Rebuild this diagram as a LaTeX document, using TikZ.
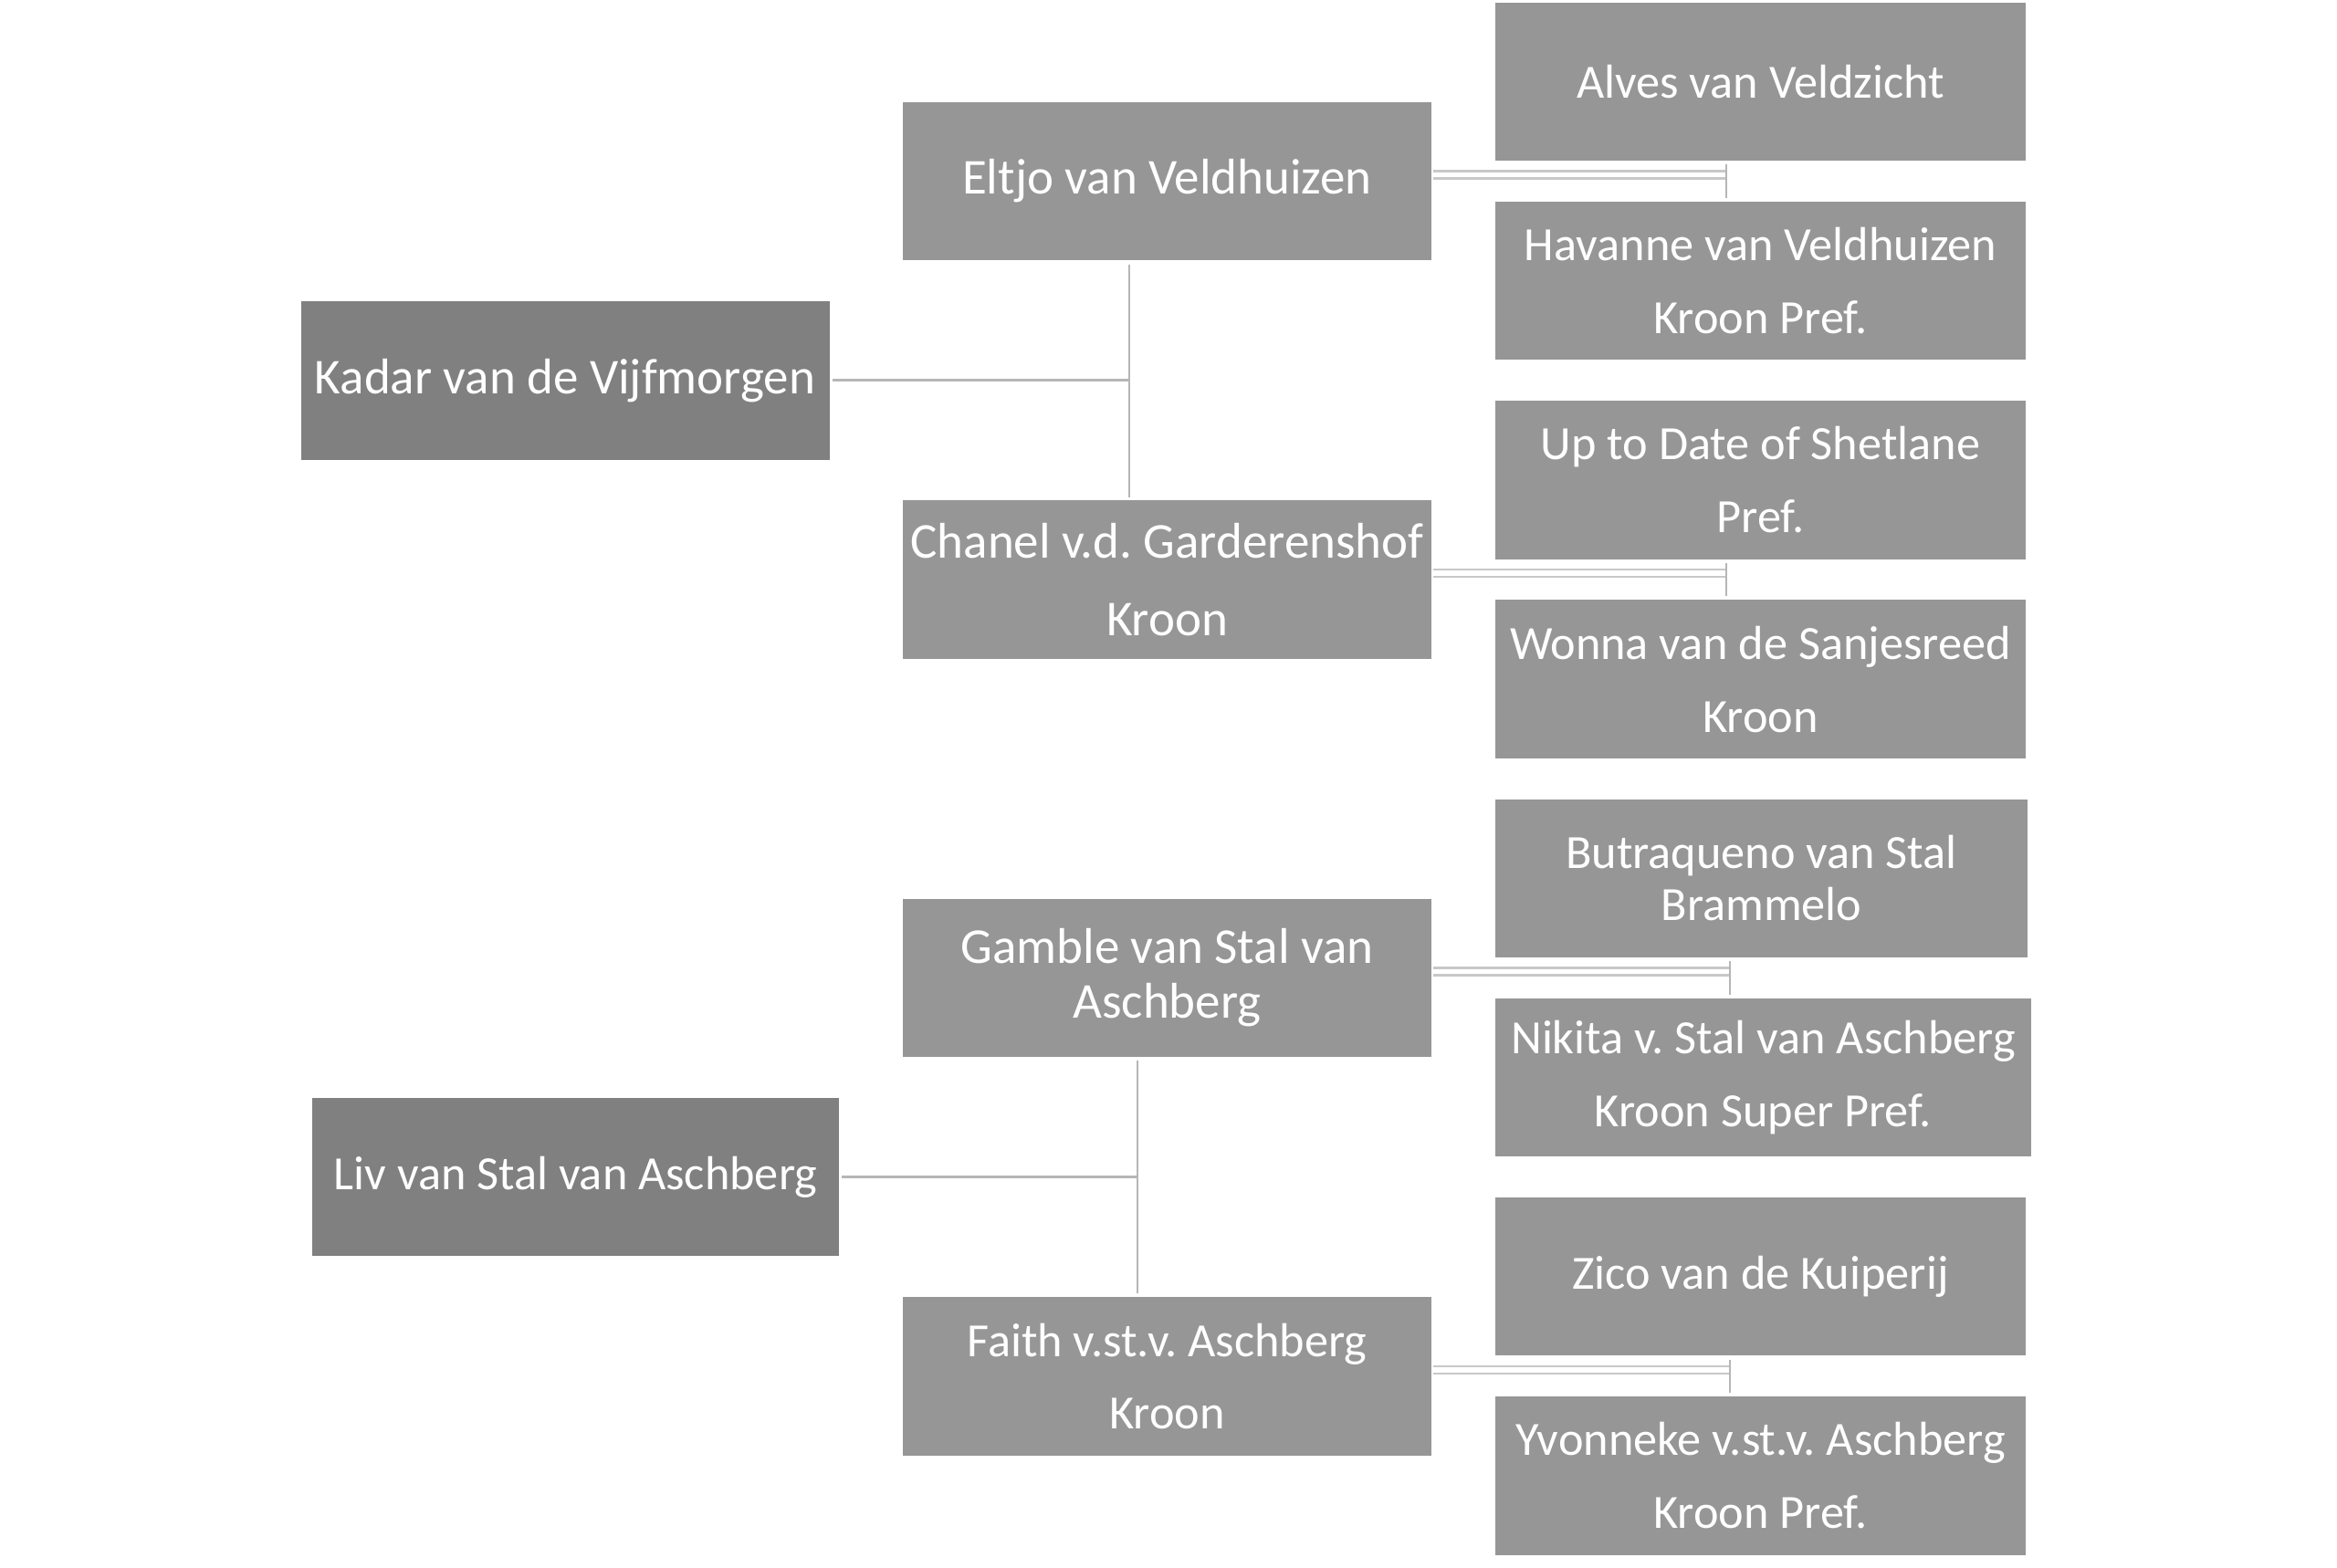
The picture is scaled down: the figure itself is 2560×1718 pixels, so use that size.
\documentclass[tikz,border=0pt]{standalone}
\usepackage{fontspec}
\setmainfont{Carlito}
\usetikzlibrary{calc}
\definecolor{boxmid}{RGB}{150,150,150}
\definecolor{boxleft}{RGB}{128,128,128}
\definecolor{lnpair}{RGB}{200,200,200}
\definecolor{lnstem}{RGB}{182,182,182}
\tikzset{
  basebox/.style={rectangle, text=white, inner sep=0pt, align=center,
    minimum height=173.5pt, font=\fontsize{55}{60}\selectfont},
  smalltext/.style={font=\fontsize{52.3}{57}\selectfont},
  midbox/.style={basebox, fill=boxmid, minimum width=579pt},
  rightbox/.style={basebox, smalltext, fill=boxmid, minimum width=581pt},
  leftbox/.style={basebox, fill=boxleft, minimum width=579pt},
  pairline/.style={draw=lnpair, line width=2.6pt},
  stemline/.style={draw=lnstem, line width=2pt},
  feedline/.style={draw=lnstem, line width=2.8pt}
}
\begin{document}
\frenchspacing
\begin{tikzpicture}[x=1pt,y=-1pt]
\useasboundingbox (0,0) rectangle (2560,1718);
% left column
\node[leftbox] (kadar) at (619,416.8) {Kadar van de Vijfmorgen};
\node[leftbox, smalltext, minimum width=577pt] (liv) at (630.5,1289.6) {Liv van Stal van Aschberg};
% middle column
\node[midbox] (eltjo) at (1278.5,198.6) {Eltjo van Veldhuizen};
\node[midbox] (chanel) at (1278.5,635) {Chanel v.d. Garderenshof\\[25pt]Kroon};
\node[midbox] (gamble) at (1278.5,1071.4) {Gamble van Stal van\\Aschberg};
\node[midbox, smalltext] (faith) at (1278.5,1507.8) {Faith v.st.v. Aschberg\\[22pt]Kroon};
% right column
\node[rightbox] (alves) at (1928.5,89.5) {Alves van Veldzicht};
\node[rightbox] (havanne) at (1928.5,307.7) {Havanne van Veldhuizen\\[23pt]Kroon Pref.};
\node[rightbox] (uptodate) at (1928.5,525.9) {Up to Date of Shetlane\\[23pt]Pref.};
\node[rightbox] (wonna) at (1928.5,744.1) {Wonna van de Sanjesreed\\[23pt]Kroon};
\node[rightbox, minimum width=583pt] (butraq) at (1929.5,962.3) {Butraqueno van Stal\\Brammelo};
\node[rightbox, minimum width=587pt] (nikita) at (1931.5,1180.5) {Nikita v. Stal van Aschberg\\[23pt]Kroon Super Pref.};
\node[rightbox] (zico) at (1928.5,1398.7) {Zico van de Kuiperij};
\node[rightbox] (yvonneke) at (1928.5,1616.9) {Yvonneke v.st.v. Aschberg\\[23pt]Kroon Pref.};
% junction points
\coordinate (j1) at (1237,416.8);
\coordinate (j2) at (1246,1289.6);
\coordinate (k1) at (1891,198.6);
\coordinate (k2) at (1891,635);
\coordinate (k3) at (1895,1071.4);
\coordinate (k4) at (1895,1507.8);
% left connectors
\draw[feedline] ($(kadar.east)+(3,0)$) -- (j1);
\draw[stemline] ($(eltjo.south -| j1)+(0,4)$) -- ($(chanel.north -| j1)+(0,-3)$);
\draw[feedline] ($(liv.east)+(3,0)$) -- (j2);
\draw[stemline] ($(gamble.south -| j2)+(0,4)$) -- ($(faith.north -| j2)+(0,-4)$);
% right connectors
\foreach \m/\k/\a/\b in {eltjo/k1/alves/havanne, chanel/k2/uptodate/wonna, gamble/k3/butraq/nikita, faith/k4/zico/yvonneke}{
  \draw[pairline] ($(\m.east)+(2,-11)$) -- ($(\k)+(0,-11)$);
  \draw[pairline] ($(\m.east)+(2,-3)$) -- ($(\k)+(0,-3)$);
  \draw[stemline] ($(\a.south -| \k)+(0,4)$) -- ($(\b.north -| \k)+(0,-4)$);
}
\end{tikzpicture}
\end{document}
